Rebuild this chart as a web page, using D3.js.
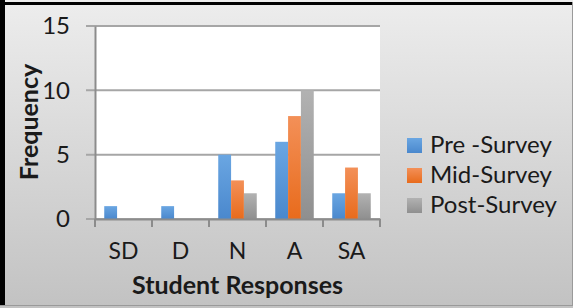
<!DOCTYPE html>
<meta charset="utf-8">
<title>Student Responses</title>
<style>
body { margin: 0; }
svg { display: block; font-family: Lato, sans-serif; }
</style>
<body></body>
<script src="https://cdn.jsdelivr.net/npm/d3@7"></script>
<script>

var categories = ["SD", "D", "N", "A", "SA"];
var series = ["Pre -Survey", "Mid-Survey", "Post-Survey"];
var preSurvey = [1, 1, 5, 6, 2];
var midSurvey = [0, 0, 3, 8, 4];
var postSurvey = [0, 0, 2, 10, 2];
var yTicks = [0, 5, 10, 15];

var values = [preSurvey, midSurvey, postSurvey];
var colors = [["#6aa6e2", "#4a88cd"], ["#f39058", "#e86b1c"], ["#b2b2b2", "#8f8f8f"]];

var width = 573, height = 308;
var plot = {left: 95, right: 380, top: 26, bottom: 219};

var svg = d3.select("body").append("svg")
    .attr("width", width)
    .attr("height", height);

var defs = svg.append("defs");
var bg = defs.append("linearGradient").attr("id", "bg")
    .attr("x1", 0).attr("y1", 0).attr("x2", 0).attr("y2", 1);
bg.append("stop").attr("offset", "0%").attr("stop-color", "#ededed");
bg.append("stop").attr("offset", "100%").attr("stop-color", "#c2c2c2");

colors.forEach(function(c, i) {
  var g = defs.append("linearGradient").attr("id", "bar" + i)
      .attr("x1", 0).attr("y1", 0).attr("x2", 0).attr("y2", 1);
  g.append("stop").attr("offset", "0%").attr("stop-color", c[0]);
  g.append("stop").attr("offset", "100%").attr("stop-color", c[1]);
});

// background and frame
svg.append("rect").attr("width", width).attr("height", height).attr("fill", "url(#bg)");
svg.append("rect").attr("x", 0).attr("y", 0).attr("width", 5).attr("height", 306).attr("fill", "#000");
svg.append("rect").attr("x", 0).attr("y", 2).attr("width", width).attr("height", 3).attr("fill", "#000");
svg.append("rect").attr("x", 0).attr("y", 305).attr("width", width).attr("height", 1).attr("fill", "#9a9a9a");
svg.append("rect").attr("x", 572).attr("y", 2).attr("width", 1).attr("height", 304).attr("fill", "#9a9a9a");

svg.append("rect")
    .attr("x", plot.left).attr("y", plot.top)
    .attr("width", plot.right - plot.left).attr("height", plot.bottom - plot.top)
    .attr("fill", "#fff");

var x = d3.scaleBand().domain(categories).range([plot.left, plot.right]);
var xs = d3.scaleBand().domain(d3.range(series.length)).range([0, x.bandwidth()]).paddingOuter(0.72);
var y = d3.scaleLinear().domain([0, 15]).range([plot.bottom, plot.top]);

// gridlines
svg.append("g").selectAll("line").data(yTicks).join("line")
    .attr("x1", plot.left - 9).attr("x2", plot.right)
    .attr("y1", function(d) { return y(d); }).attr("y2", function(d) { return y(d); })
    .attr("stroke", "#a6a6a6").attr("stroke-width", 2);

// bars
svg.append("g").selectAll("g").data(values).join("g")
  .each(function(vals, si) {
    d3.select(this).selectAll("rect").data(vals).join("rect")
        .attr("x", function(d, i) { return x(categories[i]) + xs(si); })
        .attr("width", xs.bandwidth())
        .attr("y", function(d) { return y(d); })
        .attr("height", function(d) { return y(0) - y(d); })
        .attr("fill", "url(#bar" + si + ")");
  });

// y axis
var yAxis = svg.append("g")
    .attr("transform", "translate(" + plot.left + ",0)")
    .call(d3.axisLeft(y).tickValues(yTicks).tickSize(0).tickPadding(25));
yAxis.attr("font-family", null);
yAxis.select(".domain").attr("stroke", "#8c8c8c").attr("stroke-width", 2);
yAxis.selectAll("text").attr("font-size", 24).attr("fill", "#1a1a1a");

// x axis
var xAxis = svg.append("g")
    .attr("transform", "translate(0," + plot.bottom + ")")
    .call(d3.axisBottom(x).tickSize(0).tickPadding(24));
xAxis.attr("font-family", null);
xAxis.select(".domain").attr("stroke", "#8c8c8c").attr("stroke-width", 2);
xAxis.selectAll("text").attr("font-size", 23).attr("fill", "#1a1a1a");
xAxis.selectAll(".tick line").remove();
xAxis.selectAll("line.sep").data(categories.concat(["end"])).join("line")
    .attr("class", "sep")
    .attr("x1", function(d, i) { return i < categories.length ? x(d) : plot.right; })
    .attr("x2", function(d, i) { return i < categories.length ? x(d) : plot.right; })
    .attr("y1", 0).attr("y2", 8)
    .attr("stroke", "#8c8c8c").attr("stroke-width", 2);

// axis titles
svg.append("text")
    .attr("transform", "translate(38,122) rotate(-90)")
    .attr("text-anchor", "middle")
    .attr("font-size", 25).attr("font-weight", "bold").attr("fill", "#1a1a1a")
    .text("Frequency");
svg.append("text")
    .attr("x", (plot.left + plot.right) / 2).attr("y", 294)
    .attr("text-anchor", "middle")
    .attr("font-size", 25).attr("font-weight", "bold").attr("fill", "#1a1a1a")
    .text("Student Responses");

// legend
var legend = svg.append("g").selectAll("g").data(series).join("g")
    .attr("transform", function(d, i) { return "translate(407," + (138 + i * 30) + ")"; });
legend.append("rect")
    .attr("width", 15).attr("height", 15)
    .attr("fill", function(d, i) { return "url(#bar" + i + ")"; });
legend.append("text")
    .attr("x", 23).attr("y", 15)
    .attr("font-size", 24).attr("fill", "#1a1a1a")
    .text(function(d) { return d; });
</script>
